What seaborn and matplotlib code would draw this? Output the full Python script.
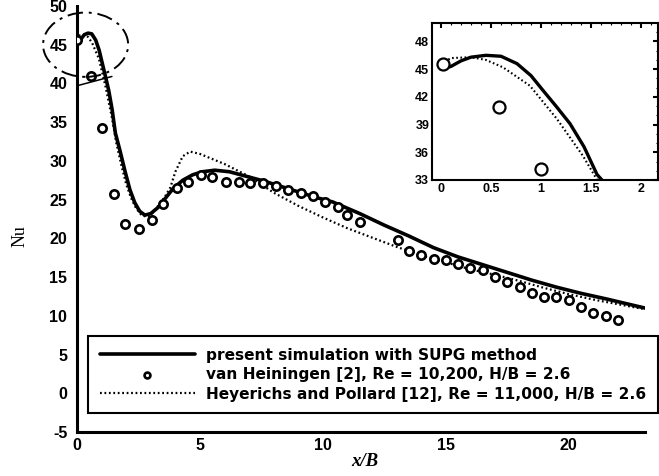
import numpy as np
import pandas as pd
import matplotlib
matplotlib.use("Agg")
import matplotlib.pyplot as plt
from matplotlib.patches import Ellipse
from matplotlib.ticker import MultipleLocator
import seaborn as sns

# --- present simulation (SUPG) ---
sim_x = [0.0, 0.1, 0.2, 0.3, 0.45, 0.6, 0.76, 0.9, 1.02, 1.15, 1.29, 1.43, 1.56,
         1.75, 1.95, 2.15, 2.35, 2.55, 2.76, 3.0, 3.3, 3.6, 3.9, 4.3, 4.7, 5.1,
         5.6, 6.2, 6.9, 7.6, 8.3, 9.0, 9.7, 10.4, 11.5, 12.5, 13.5, 14.5, 15.5,
         16.5, 17.5, 18.5, 19.5, 20.5, 21.5, 22.3, 23.1]
sim_nu = [45.0, 45.3, 45.9, 46.3, 46.5, 46.4, 45.6, 44.3, 42.7, 41.0, 39.1, 36.6, 33.6,
          31.3, 28.7, 26.3, 24.6, 23.5, 23.0, 23.2, 24.0, 25.2, 26.4, 27.5, 28.2, 28.6,
          28.8, 28.6, 28.0, 27.4, 26.7, 26.0, 25.3, 24.7, 23.2, 21.7, 20.3, 18.8, 17.6,
          16.6, 15.6, 14.6, 13.7, 12.9, 12.2, 11.6, 11.0]

# --- van Heiningen [2] measurements ---
vh_x = [0.02, 0.58, 1.0, 1.52, 1.95, 2.52, 3.05, 3.5, 4.05, 4.5, 5.05, 5.5, 6.05,
        6.6, 7.05, 7.55, 8.1, 8.6, 9.1, 9.6, 10.1, 10.6, 11.0, 11.5, 13.05, 13.5,
        14.0, 14.5, 15.0, 15.5, 16.0, 16.5, 17.0, 17.5, 18.0, 18.5, 19.0, 19.5,
        20.0, 20.5, 21.0, 21.5, 22.0]
vh_nu = [45.6, 40.9, 34.2, 25.7, 21.9, 21.2, 22.4, 24.5, 26.5, 27.3, 28.2, 27.9, 27.3,
         27.3, 27.2, 27.2, 26.7, 26.3, 25.9, 25.5, 24.7, 24.1, 23.0, 22.1, 19.8, 18.4,
         17.9, 17.4, 17.2, 16.7, 16.2, 15.9, 15.0, 14.4, 13.7, 12.9, 12.4, 12.4,
         12.0, 11.1, 10.4, 10.0, 9.4]

# --- Heyerichs and Pollard [12] ---
hp_x = [0.0, 0.1, 0.3, 0.45, 0.62, 0.89, 1.16, 1.42, 1.6, 1.8, 2.0, 2.2, 2.4, 2.6,
        2.8, 3.0, 3.3, 3.6, 3.8, 4.0, 4.3, 4.6, 5.0, 6.0, 7.0, 8.0, 9.0, 10.0,
        11.0, 12.0, 13.0, 14.0, 15.0, 16.0, 17.0, 18.0, 19.0, 20.0, 21.0, 22.0, 23.0]
hp_nu = [45.6, 46.2, 46.3, 46.0, 45.2, 43.2, 39.6, 35.6, 32.3, 29.5, 27.0, 25.2, 23.9, 23.1,
         22.8, 23.0, 24.2, 25.5, 26.6, 28.6, 30.6, 31.2, 30.9, 29.6, 28.0, 25.9, 24.2, 22.7,
         21.3, 20.1, 18.9, 17.8, 16.9, 16.0, 15.3, 14.5, 13.6, 12.8, 12.1, 11.5, 10.9]

# short reference segment near the wall
lead_x = [0.0, 1.42]
lead_nu = [39.7, 40.9]

labels = ["present simulation with SUPG method",
          "van Heiningen [2], Re = 10,200, H/B = 2.6",
          "Heyerichs and Pollard [12], Re = 11,000, H/B = 2.6"]

sim = pd.DataFrame({"x": sim_x, "Nu": sim_nu})
vh = pd.DataFrame({"x": vh_x, "Nu": vh_nu})
hp = pd.DataFrame({"x": hp_x, "Nu": hp_nu})

sns.set_style("white")
plt.rcParams["font.family"] = ["Liberation Sans", "DejaVu Sans"]
plt.rcParams["axes.unicode_minus"] = False
plt.rcParams["text.color"] = "black"
plt.rcParams["axes.labelcolor"] = "black"
plt.rcParams["xtick.color"] = "black"
plt.rcParams["ytick.color"] = "black"

W, H = 659, 476
fig = plt.figure(figsize=(W / 100, H / 100), dpi=100)

ax = fig.add_axes([77 / W, (H - 432) / H, (645 - 77) / W, (432 - 6) / H])


def draw(axis, lw_solid, lw_dot, ms, mew):
    sns.lineplot(data=sim, x="x", y="Nu", ax=axis, color="black", lw=lw_solid,
                 sort=False, estimator=None, label=labels[0], zorder=3)
    sns.scatterplot(data=vh, x="x", y="Nu", ax=axis, marker="o", s=ms,
                    facecolor="white", edgecolor="black", linewidth=mew,
                    label=labels[1], zorder=4)
    sns.lineplot(data=hp, x="x", y="Nu", ax=axis, color="black", lw=lw_dot,
                 linestyle=(0, (0.8, 1.2)), sort=False, estimator=None,
                 label=labels[2], zorder=2)


draw(ax, 2.6, 1.6, 36, 1.9)
ax.plot(lead_x, lead_nu, color="black", lw=1.1, zorder=2)

ax.set_xlim(0, 23.1)
ax.set_ylim(-5, 50)
ax.xaxis.set_major_locator(MultipleLocator(5))
ax.yaxis.set_major_locator(MultipleLocator(5))
for s in ["top", "right"]:
    ax.spines[s].set_visible(False)
for s in ["left", "bottom"]:
    ax.spines[s].set_linewidth(2.2)
    ax.spines[s].set_color("black")
ax.tick_params(direction="in", length=4, width=2, colors="black",
               labelsize=11.5, pad=4)
ax.tick_params(axis="y", pad=7)
for t in ax.get_xticklabels() + ax.get_yticklabels():
    t.set_fontweight("bold")

ax.set_xlabel("x/B", fontsize=13.5, fontweight="bold", style="italic",
              family="Liberation Serif")
ax.xaxis.set_label_coords(0.507, -0.05)
ax.set_ylabel("Nu", fontsize=13, family="Liberation Serif")
ax.yaxis.set_label_coords(-0.086, 0.46)

# dash-dot ring around the stagnation-region peak
ring = Ellipse((0.35, 45.0), 3.46, 8.3, fill=False, edgecolor="black", lw=1.4,
               linestyle=(0, (8, 3, 1.5, 3)), clip_on=False, zorder=5)
ax.add_patch(ring)

handles, _ = ax.get_legend_handles_labels()
leg = ax.legend(handles, labels, loc="upper left",
                bbox_to_anchor=(88 / W, 1 - 336 / H), bbox_transform=fig.transFigure,
                borderaxespad=0, frameon=True, fancybox=False, framealpha=1,
                edgecolor="black", handlelength=6.2, handletextpad=0.7,
                labelspacing=0.3, borderpad=0.75, markerscale=0.7,
                prop={"family": "DejaVu Sans", "weight": "bold", "size": 11.1})
leg.get_frame().set_linewidth(1.5)

# inset: zoom on the stagnation region
ins = fig.add_axes([432 / W, (H - 180) / H, (658 - 432) / W, (180 - 23) / H])
draw(ins, 2.4, 1.5, 75, 1.6)
if ins.get_legend() is not None:
    ins.get_legend().remove()
ins.set_xlim(-0.09, 2.17)
ins.set_ylim(33, 50)
ins.xaxis.set_minor_locator(MultipleLocator(0.1))
ins.yaxis.set_minor_locator(MultipleLocator(1))
ins.set_xticks([0, 0.5, 1, 1.5, 2])
ins.set_xticklabels(["0", "0.5", "1", "1.5", "2"])
ins.set_yticks([33, 36, 39, 42, 45, 48])
for s in ins.spines.values():
    s.set_linewidth(1.5)
    s.set_color("black")
ins.tick_params(which="both", direction="in", top=True, right=True, colors="black")
ins.tick_params(which="major", length=3.5, width=1.5, labelsize=9, pad=2)
ins.tick_params(which="minor", length=1.5, width=0.8)
for t in ins.get_xticklabels() + ins.get_yticklabels():
    t.set_fontweight("bold")
ins.set_xlabel("")
ins.set_ylabel("")

fig.savefig("out.png", dpi=100)
